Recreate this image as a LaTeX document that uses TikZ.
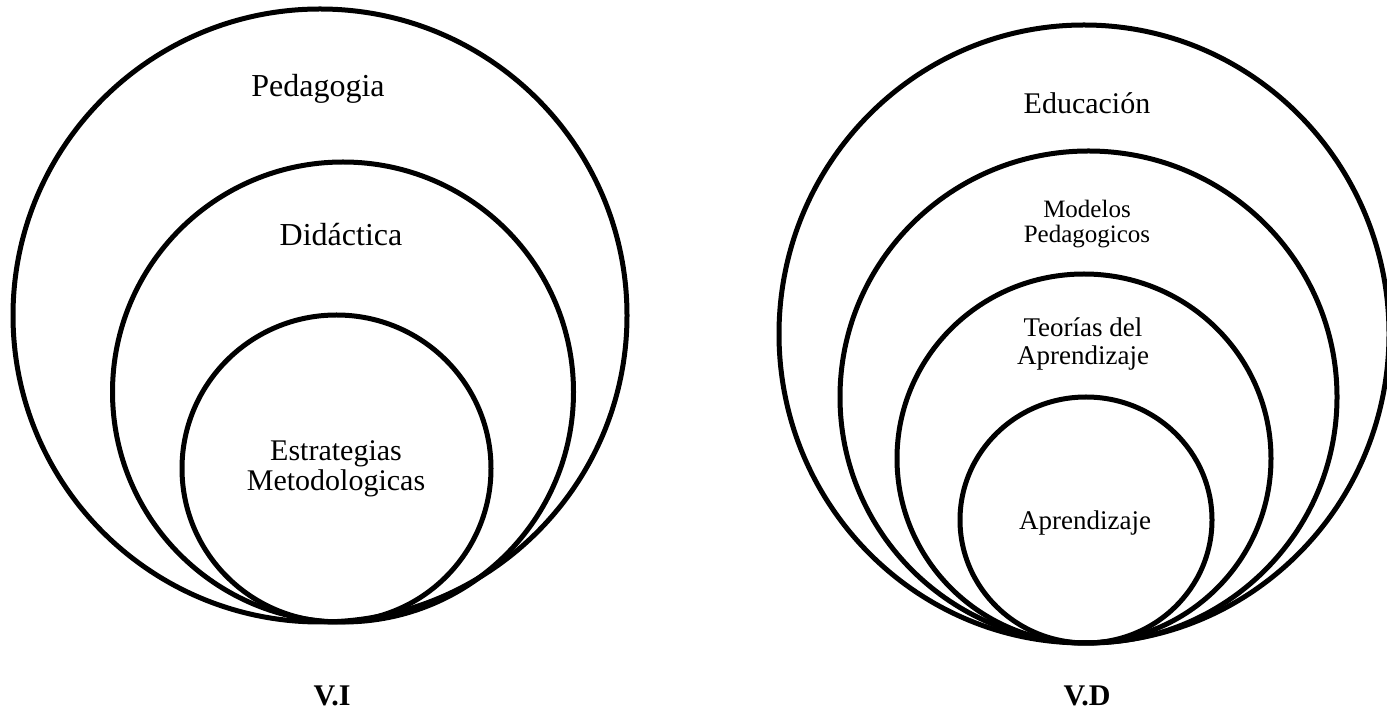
\documentclass[tikz,border=0pt]{standalone}
\usepackage{fontspec}
\setmainfont{Liberation Serif}
\begin{document}
\begin{tikzpicture}[x=0.5pt,y=-0.5pt]
            \tikzset{ring/.style={draw=black,line width=2.5pt},
                     lbl/.style={align=center,inner sep=0pt}}
            \useasboundingbox (0,0) rectangle (1387,715);

            % circles V.I
            \draw[ring] (320,315.5) ellipse [x radius=307,y radius=306.5];
            \draw[ring] (343,392) ellipse [x radius=230.5,y radius=230];
            \draw[ring] (336.5,468.5) ellipse [x radius=154.5,y radius=153.5];

            % circles V.D
            \draw[ring] (1084,334) ellipse [x radius=305,y radius=309];
            \draw[ring] (1088.5,397) ellipse [x radius=248.5,y radius=246];
            \draw[ring] (1084,458.5) ellipse [x radius=187,y radius=184.5];
            \draw[ring] (1086,520) ellipse [x radius=126,y radius=123];

            % labels V.I
            \node[lbl,font=\fontsize{16}{18}\selectfont] (ped) at (318,89) {Pedagogia};
            \node[lbl,font=\fontsize{16}{18}\selectfont] (did) at (341,235) {Didáctica};
            \node[lbl,font=\fontsize{15}{15}\selectfont] (est) at (336,469) {Estrategias\\Metodologicas};
            \node[lbl,font=\fontsize{15}{17}\selectfont\bfseries] (vi) at (332,696) {V.I};

            % labels V.D
            \node[lbl,font=\fontsize{15}{17}\selectfont] (edu) at (1087,103) {Educación};
            \node[lbl,font=\fontsize{12.5}{12.75}\selectfont] (mod) at (1087,224) {Modelos\\Pedagogicos};
            \node[lbl,font=\fontsize{13.5}{14}\selectfont] (teo) at (1083,344) {Teorías del\\Aprendizaje};
            \node[lbl,font=\fontsize{13.5}{15}\selectfont] (apr) at (1085,523) {Aprendizaje};
            \node[lbl,font=\fontsize{15}{17}\selectfont\bfseries] (vd) at (1087,696) {V.D};
        \end{tikzpicture}
\end{document}
